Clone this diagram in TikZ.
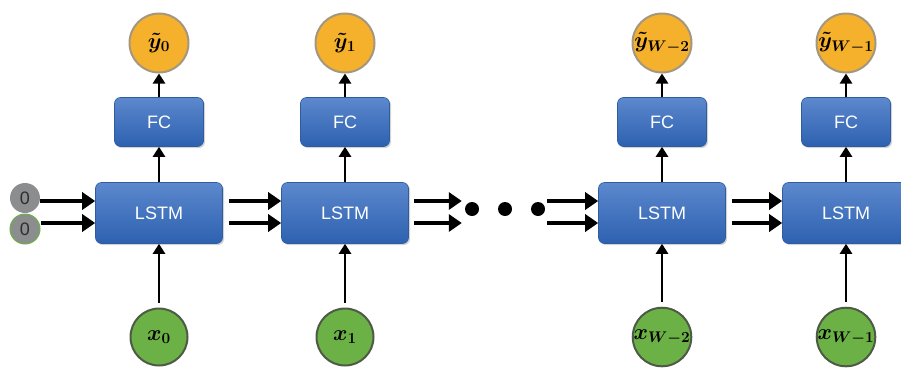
\documentclass[tikz,border=0pt]{standalone}
\usepackage{amsmath, amssymb}
\usepackage{fix-cm}
\usepackage{fontspec}
\setsansfont{Liberation Sans}
\usetikzlibrary{arrows.meta, shadows}

\definecolor{cellTop}{HTML}{5C88CD}
\definecolor{cellBot}{HTML}{2D61B0}
\definecolor{cellEdge}{HTML}{2F5C9F}
\definecolor{outFill}{HTML}{F5B02C}
\definecolor{outEdge}{HTML}{A39780}
\definecolor{inFill}{HTML}{6CB146}
\definecolor{inEdge}{HTML}{4E5A46}
\definecolor{zeroFill}{HTML}{8C8D8F}
\definecolor{zeroText}{HTML}{2E2E2E}
\definecolor{zeroEdge}{HTML}{6CB146}

\begin{document}
\begin{tikzpicture}[x=1pt, y=-1pt,
        cell/.style={rounded corners=6pt, draw=cellEdge, line width=0.6pt,
            top color=cellTop, bottom color=cellBot, text=white,
            font=\sffamily\fontsize{18}{18}\selectfont,
            drop shadow={opacity=0.35, shadow xshift=1.5pt, shadow yshift=-1.5pt}},
        lstm/.style={cell, minimum width=127pt, minimum height=61pt},
        fc/.style={cell, minimum width=89pt, minimum height=49pt},
        outc/.style={circle, fill=outFill, draw=outEdge, line width=2pt,
            minimum size=59pt, inner sep=0pt, font=\fontsize{22}{22}\selectfont},
        inpc/.style={circle, fill=inFill, draw=inEdge, line width=2pt,
            minimum size=57pt, inner sep=0pt, font=\fontsize{22}{22}\selectfont},
        zero/.style={circle, fill=zeroFill, minimum size=30pt, inner sep=0pt,
            text=zeroText, font=\sffamily\fontsize{18}{18}\selectfont},
        dot/.style={circle, fill=black, minimum size=14pt, inner sep=0pt},
        bus/.style={line width=4.5pt, -{Triangle[length=13pt, width=17pt]}},
        link/.style={line width=2.8pt, -{Triangle[length=10pt, width=12pt]}}]
        \useasboundingbox (0,0) rectangle (901,367);

        \node[lstm] (L0) at (159,213) {LSTM};
        \node[lstm] (L1) at (345,213) {LSTM};
        \node[lstm] (L2) at (662,213) {LSTM};
        \node[lstm] (L3) at (846,213) {LSTM};

        \node[fc] (F0) at (159,122) {FC};
        \node[fc] (F1) at (345,122) {FC};
        \node[fc] (F2) at (662,122) {FC};
        \node[fc] (F3) at (846,122) {FC};

        \node[outc] (Y0) at (159,43) {$\boldsymbol{\tilde{y}_{0}}$};
        \node[outc] (Y1) at (345,43) {$\boldsymbol{\tilde{y}_{1}}$};
        \node[outc] (Y2) at (662,43) {$\boldsymbol{\tilde{y}_{W-2}}$};
        \node[outc] (Y3) at (846,43) {$\boldsymbol{\tilde{y}_{W-1}}$};

        \node[inpc] (X0) at (159,337) {$\boldsymbol{x_{0}}$};
        \node[inpc] (X1) at (345,337) {$\boldsymbol{x_{1}}$};
        \node[inpc] (X2) at (662,337) {$\boldsymbol{x_{W-2}}$};
        \node[inpc] (X3) at (846,337) {$\boldsymbol{x_{W-1}}$};

        \node[zero] (Z0) at (25,198) {0};
        \node[zero, draw=zeroEdge, line width=1pt] (Z1) at (25,229) {0};

        \node[dot] (D1) at (472,209) {};
        \node[dot] (D2) at (505,209) {};
        \node[dot] (D3) at (538,209) {};

        \coordinate (a0) at ([yshift=12pt]L0.west);
        \coordinate (a1) at ([yshift=-10pt]L0.west);
        \coordinate (b0) at ([yshift=12pt]L1.east);
        \coordinate (b1) at ([yshift=-10pt]L1.east);
        \coordinate (c0) at ([yshift=12pt]L2.west);
        \coordinate (c1) at ([yshift=-10pt]L2.west);

        \draw[bus] (Z0.east |- a0) -- (a0);
        \draw[bus] (Z1.east |- a1) -- (a1);
        \draw[bus, shorten <=6pt] ([yshift=12pt]L0.east) -- ([yshift=12pt]L1.west);
        \draw[bus, shorten <=6pt] ([yshift=-10pt]L0.east) -- ([yshift=-10pt]L1.west);
        \draw[bus, shorten <=5pt, shorten >=3pt] (b0) -- (b0 -| D1.west);
        \draw[bus, shorten <=5pt, shorten >=3pt] (b1) -- (b1 -| D1.west);
        \draw[bus, shorten <=2pt] (c0 -| D3.east) -- (c0);
        \draw[bus, shorten <=2pt] (c1 -| D3.east) -- (c1);
        \draw[bus, shorten <=6pt] ([yshift=12pt]L2.east) -- ([yshift=12pt]L3.west);
        \draw[bus, shorten <=6pt] ([yshift=-10pt]L2.east) -- ([yshift=-10pt]L3.west);

        \draw[link, shorten <=5pt] (X0) -- (L0);
        \draw[link, shorten <=5pt] (X1) -- (L1);
        \draw[link, shorten <=5pt] (X2) -- (L2);
        \draw[link, shorten <=5pt] (X3) -- (L3);
        \draw[link] (L0) -- (F0);
        \draw[link] (L1) -- (F1);
        \draw[link] (L2) -- (F2);
        \draw[link] (L3) -- (F3);
        \draw[link] (F0) -- (Y0);
        \draw[link] (F1) -- (Y1);
        \draw[link] (F2) -- (Y2);
        \draw[link] (F3) -- (Y3);
    \end{tikzpicture}
\end{document}
